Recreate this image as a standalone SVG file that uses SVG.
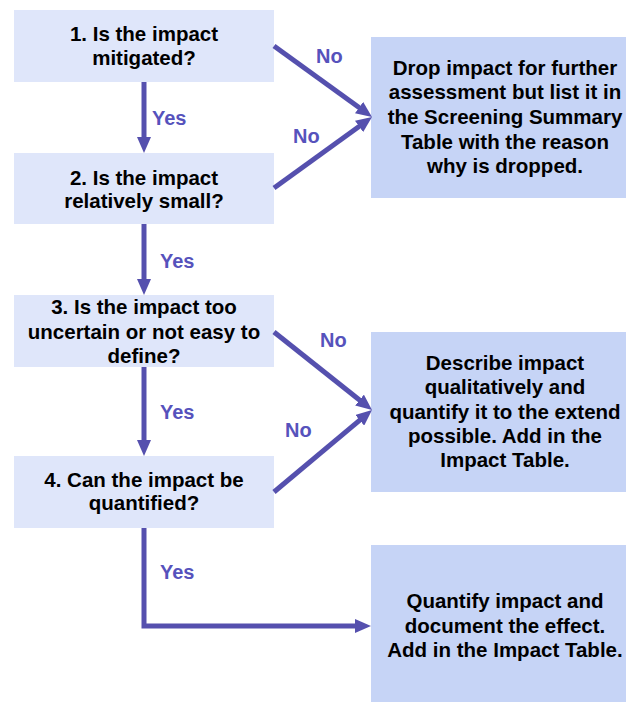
<svg xmlns="http://www.w3.org/2000/svg" width="626" height="702" viewBox="0 0 626 702">
<style>
.q{fill:#dfe6fa}
.r{fill:#c6d4f6}
.t{font-family:"Liberation Sans",Arial,sans-serif;font-weight:bold;font-size:20.5px;fill:#000;text-anchor:middle}
.l{font-family:"Liberation Sans",Arial,sans-serif;font-weight:bold;font-size:20px;fill:#5652bc}
.c{fill:none;stroke:#5550ae;stroke-width:5}
</style>
<defs>
<marker id="ah" viewBox="0 0 16 14" refX="6" refY="7" markerWidth="16" markerHeight="14" markerUnits="userSpaceOnUse" orient="auto">
<path d="M0,0 L16,7 L0,14 z" fill="#5550ae"/>
</marker>
</defs>
<g id="n1"><rect class="q" x="14" y="10" width="260" height="72"/><text class="t" x="144" y="41">1. Is the impact</text><text class="t" x="144" y="65">mitigated?</text></g>
<g id="n2"><rect class="q" x="14" y="153" width="260" height="71"/><text class="t" x="144" y="185">2. Is the impact</text><text class="t" x="144" y="208">relatively small?</text></g>
<g id="n3"><rect class="q" x="14" y="295" width="260" height="72"/><text class="t" x="144" y="314">3. Is the impact too</text><text class="t" x="144" y="339">uncertain or not easy to</text><text class="t" x="144" y="363">define?</text></g>
<g id="n4"><rect class="q" x="14" y="456" width="260" height="72"/><text class="t" x="144" y="487">4. Can the impact be</text><text class="t" x="144" y="510">quantified?</text></g>
<g id="d1"><rect class="r" x="371" y="37" width="270" height="161"/><text class="t" x="505" y="75">Drop impact for further</text><text class="t" x="505" y="99">assessment but list it in</text><text class="t" x="505" y="124">the Screening Summary</text><text class="t" x="505" y="149">Table with the reason</text><text class="t" x="505" y="173">why is dropped.</text></g>
<g id="d2"><rect class="r" x="371" y="332" width="270" height="160"/><text class="t" x="505" y="370">Describe impact</text><text class="t" x="505" y="394">qualitatively and</text><text class="t" x="505" y="419">quantify it to the extend</text><text class="t" x="505" y="443">possible. Add in the</text><text class="t" x="505" y="467">Impact Table.</text></g>
<g id="d3"><rect class="r" x="371" y="545" width="270" height="157"/><text class="t" x="505" y="608">Quantify impact and</text><text class="t" x="505" y="633">document the effect.</text><text class="t" x="505" y="657">Add in the Impact Table.</text></g>
<g id="connectors">
<path class="c" d="M144,82 V143" marker-end="url(#ah)"/>
<path class="c" d="M144,224 V285" marker-end="url(#ah)"/>
<path class="c" d="M144,367 V446" marker-end="url(#ah)"/>
<path class="c" d="M144,528 V626 H361" marker-end="url(#ah)"/>
<path class="c" d="M274,46 L363.9,111.1" marker-end="url(#ah)"/>
<path class="c" d="M274,188 L363.9,122.9" marker-end="url(#ah)"/>
<path class="c" d="M274,332 L364.2,403.8" marker-end="url(#ah)"/>
<path class="c" d="M274,492 L364.3,416.4" marker-end="url(#ah)"/>
<text class="l" x="152" y="125">Yes</text>
<text class="l" x="160" y="268">Yes</text>
<text class="l" x="160" y="419">Yes</text>
<text class="l" x="160" y="579">Yes</text>
<text class="l" x="316" y="63">No</text>
<text class="l" x="293" y="143">No</text>
<text class="l" x="320" y="347">No</text>
<text class="l" x="285" y="437">No</text>
</g>
</svg>
